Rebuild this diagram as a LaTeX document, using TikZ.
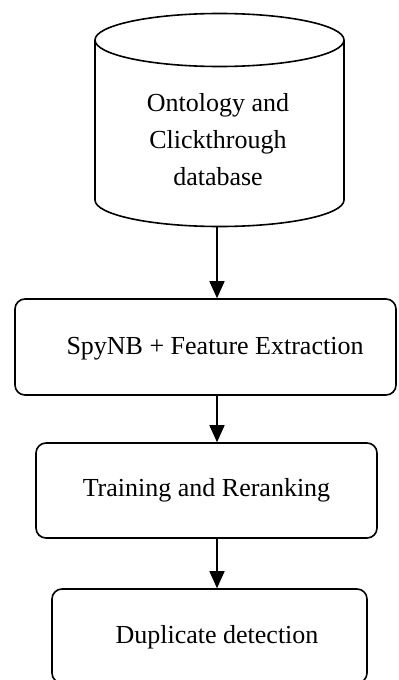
\documentclass[tikz,border=0pt]{standalone}
\usepackage{fontspec}
\setmainfont{Liberation Serif}
\usepackage{tikz}
\usetikzlibrary{arrows.meta}
\tikzset{
  lab/.style={font=\fontsize{13}{18.5}\selectfont, align=center},
  stepbox/.style={draw, line width=0.8pt, rounded corners=5pt, lab},
  dbLine/.style={line width=0.8pt},
  flow/.style={line width=0.8pt, -{Triangle[width=7.5pt,length=8.5pt]}}
}
\begin{document}
\begin{tikzpicture}[x=0.5pt,y=-0.5pt]
\useasboundingbox (0,0) rectangle (398,680);
% database cylinder
\draw[dbLine] (219.5,40) ellipse [x radius=124.5, y radius=26.5];
\draw[dbLine] (95,40) -- (95,200) arc [start angle=180, end angle=0, x radius=124.5, y radius=26.5] -- (344,40);
\node[lab] (db) at (218,140) {Ontology and\\Clickthrough\\database};
\coordinate (dbbot) at (217,226.5);

\node[stepbox, minimum width=190.5pt, minimum height=48pt] (spy) at (205.5,347) {};
\node[lab] at (215,349) {SpyNB + Feature Extraction};
\node[stepbox, minimum width=170.5pt, minimum height=47.5pt] (train) at (206.5,490.5) {Training and Reranking};
\node[stepbox, minimum width=157.5pt, minimum height=47pt] (dup) at (209.5,636) {};
\node[lab] at (217,637) {Duplicate detection};

\draw[flow] (dbbot) -- (dbbot |- spy.north);
\draw[flow] (spy.south -| dbbot) -- (train.north -| dbbot);
\draw[flow] (train.south -| dbbot) -- (dup.north -| dbbot);
\end{tikzpicture}
\end{document}
